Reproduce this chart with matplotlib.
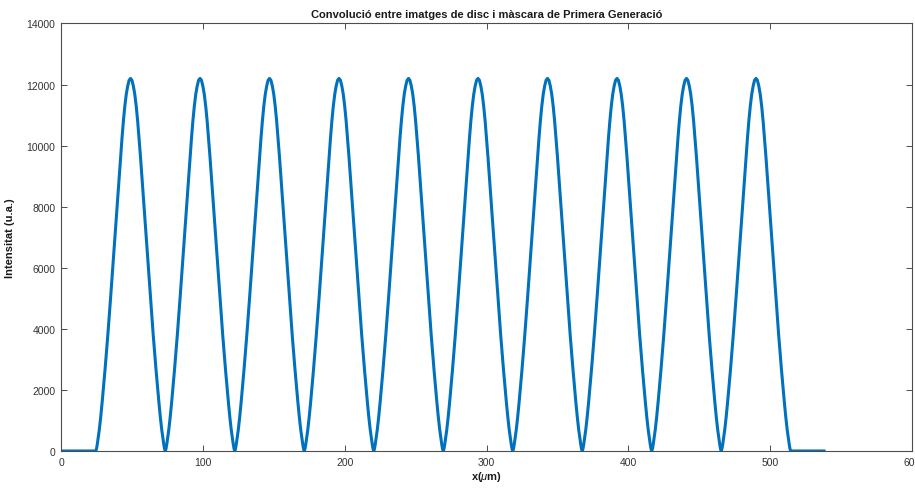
import numpy as np
import matplotlib
matplotlib.use("Agg")
import matplotlib.pyplot as plt

plt.rcParams["font.family"] = ["Liberation Sans", "DejaVu Sans"]
plt.rcParams["mathtext.fontset"] = "custom"
plt.rcParams["mathtext.it"] = "Liberation Sans:italic"

# ── data ─────────────────────────────────────────────────────────────────────
peak_x = [49, 98, 147, 196, 245, 294, 343, 392, 441, 490]   # µm
# one half of a lobe, from the peak down to the zero between lobes
half_offset = [0, 1, 2, 3, 4, 5, 6, 7, 8, 10, 12, 14, 16, 18, 20,
               21, 22, 23, 23.5, 24, 24.5]
half_value = [12200, 12140, 11950, 11680, 11300, 10820, 10250, 9650, 9000,
              7700, 6350, 5050, 3800, 2650, 1600, 1120, 700, 360, 200, 70, 0]
flat_start = 0      # signal is zero from here up to the first lobe
flat_end = 538      # last point of the trace

x_ticks = [0, 100, 200, 300, 400, 500, 600]
y_ticks = [0, 2000, 4000, 6000, 8000, 10000, 12000, 14000]

TITLE = "Convolució entre imatges de disc i màscara de Primera Generació"
BLUE = "#0072BD"
AX_COL = "#4d4d4d"

# ── assemble the trace from the lobes ────────────────────────────────────────
off = np.array(half_offset, dtype=float)
val = np.array(half_value, dtype=float)
xs = [flat_start]
ys = [0.0]
for p in peak_x:
    xs.extend(list(p - off[::-1]))
    ys.extend(list(val[::-1]))
    xs.extend(list(p + off[1:]))
    ys.extend(list(val[1:]))
xs.append(flat_end)
ys.append(0.0)
xs = np.array(xs)
ys = np.array(ys)
keep = np.concatenate([[True], np.diff(xs) > 0])
xs, ys = xs[keep], ys[keep]

# ── plot ─────────────────────────────────────────────────────────────────────
fig = plt.figure(figsize=(9.15, 4.89), dpi=100)
ax = fig.add_axes([0.0667, 0.0757, 0.93, 0.8743])

ax.plot(xs, ys, color=BLUE, lw=2.2, solid_joinstyle="round")

ax.set_xlim(0, 600)
ax.set_ylim(0, 14000)
ax.set_xticks(x_ticks)
ax.set_yticks(y_ticks)
ax.tick_params(direction="in", length=4, width=0.7, colors=AX_COL,
               labelcolor="#333333", labelsize=7.5, top=True, right=True,
               labeltop=False, labelright=False, pad=4)
for s in ax.spines.values():
    s.set_color(AX_COL)
    s.set_linewidth(0.8)

ax.set_title(TITLE, fontsize=8, fontweight="bold", color="#1a1a1a", pad=5)
ax.set_xlabel(r"x($\mu$m)", fontsize=8, fontweight="bold", color="#1a1a1a",
              labelpad=2)
ax.set_ylabel("Intensitat (u.a.)", fontsize=8, fontweight="bold",
              color="#1a1a1a", labelpad=8)

fig.savefig("out.png", dpi=100)
